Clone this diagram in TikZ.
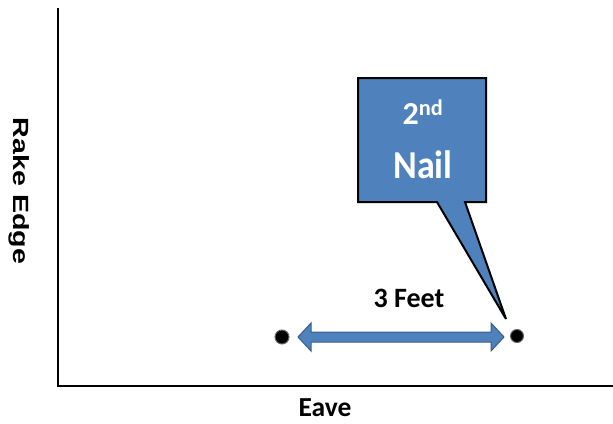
\documentclass[tikz,border=0pt]{standalone}
\usepackage{fontspec}
\usetikzlibrary{calc}
\setmainfont{Carlito}
\newfontfamily\arialf{Liberation Sans}
\definecolor{boxblue}{HTML}{4F81BD}
\definecolor{arrowedge}{HTML}{385D8A}
\begin{document}
\begin{tikzpicture}[x=1pt,y=-1pt,
  axisline/.style={line width=2.6pt,black},
  nail/.style={circle,fill=black,draw=black!60,line width=1pt,inner sep=0pt,minimum size=14pt},
  lbl/.style={font=\bfseries,text=black,inner sep=0pt}]
\useasboundingbox (0,0) rectangle (613,423);
% axes
\coordinate (top) at (58,8);
\coordinate (origin) at (58,386);
\coordinate (right) at (613,386);
\draw[axisline] (top) -- (origin) -- (right);
% labels
\node[lbl,font=\arialf\bfseries\fontsize{22}{24}\selectfont,rotate=-90] (rake) at (19,191) {\scalebox{1.3}[1]{Rake Edge}};
\node[lbl,font=\bfseries\fontsize{27.5}{30}\selectfont] (eave) at (325,408) {Eave};
\node[lbl,font=\bfseries\fontsize{28}{30}\selectfont] (feet) at (409,298) {3 Feet};
% nails
\node[nail] (n1) at (282,337) {};
\node[nail,minimum size=13pt] (n2) at (517,336) {};
% double arrow
\coordinate (aL) at (298,337);
\coordinate (aR) at (504,337);
\draw[arrowedge,fill=boxblue,line width=1pt,line join=miter]
  (aL) -- ++(13,-14) -- ++(0,9) -- ($(aR)+(-13,-5)$) -- ++(0,-9) -- (aR)
  -- ++(-13,14) -- ++(0,-9) -- ($(aL)+(13,5)$) -- ++(0,9) -- cycle;
% callout
\coordinate (tip) at (506,319);
\draw[black,line width=2pt,fill=boxblue,line join=miter]
  (358,78) -- (486,78) -- (486,202) -- (465,202) -- (tip) -- (437,202) -- (358,202) -- cycle;
\node[text=white,font=\bfseries\fontsize{32}{34}\selectfont,inner sep=0pt] (second) at (423,112) {2\textsuperscript{nd}};
\node[text=white,font=\bfseries\fontsize{36}{38}\selectfont,inner sep=0pt] (nailtxt) at (423,165) {\scalebox{1}[1.1]{Nail}};
\end{tikzpicture}
\end{document}
